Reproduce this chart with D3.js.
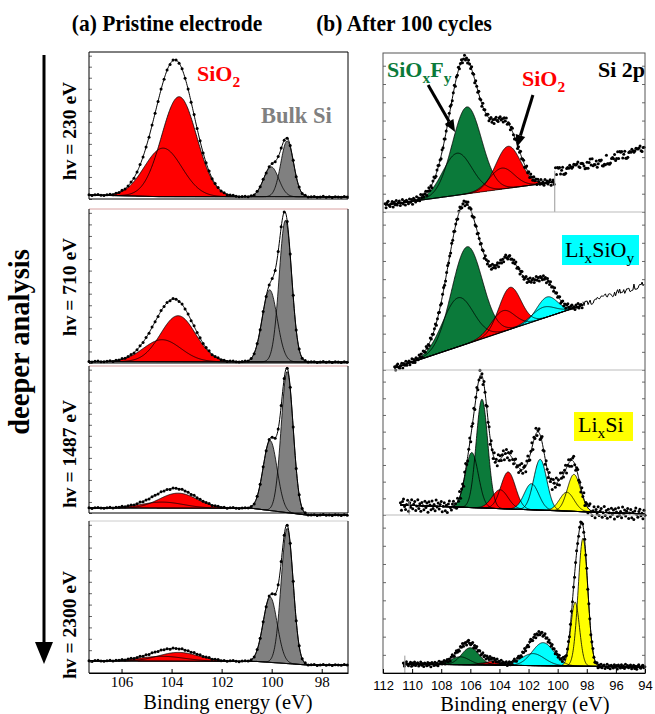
<!DOCTYPE html>
<html>
<head>
<meta charset="utf-8">
<script src="https://cdn.jsdelivr.net/npm/d3@7"></script>
<style>
  body { margin: 0; background: #fff; }
  svg { display: block; font-family: "Liberation Serif", "Times New Roman", serif; }
</style>
</head>
<body>
<svg width="655" height="714"></svg>
<script>
const photonEnergies = ["230", "710", "1487", "2300"];
const pristineTicks = [106, 104, 102, 100, 98];
const cycledTicks = [112, 110, 108, 106, 104, 102, 100, 98, 96, 94];
const species = ["SiO2", "Si", "SiOxFy", "LixSiOy", "LixSi"];

// fitted components, one row per photon energy: [species, centre eV, height (% of panel), sigma eV]
const pristinePeaks = [
  [["SiO2", 103.70, 68, 0.70], ["SiO2", 104.34, 33, 0.75], ["Si", 99.38, 38, 0.255], ["Si", 100.02, 20.4, 0.30]],
  [["SiO2", 103.74, 29.9, 0.70], ["SiO2", 104.38, 14.3, 0.75], ["Si", 99.45, 92, 0.25], ["Si", 100.08, 46.8, 0.30]],
  [["SiO2", 103.74, 10.2, 0.75], ["SiO2", 104.38, 4.1, 0.85], ["Si", 99.38, 96, 0.24], ["Si", 100.06, 47.6, 0.28]],
  [["SiO2", 103.72, 5.8, 0.80], ["SiO2", 104.38, 3.2, 0.90], ["Si", 99.38, 89, 0.24], ["Si", 100.06, 43, 0.28]]
];
// background nodes [eV, intensity]
const pristineBackground = [
  [[107.3, 2.7], [104.5, 1.6], [96.95, 1.4]],
  [[107.3, 0.9], [96.95, 0.6]],
  [[107.3, 3.4], [100.8, 3.2], [98.6, -1.4], [96.95, -1.4]],
  [[107.3, 7.9], [100.6, 7.6], [98.6, 5.3], [96.95, 5.3]]
];

// "other" = intensity in the envelope not assigned to a shaded component
const cycledPeaks = [
  [["SiOxFy", 106.23, 54.7, 1.0], ["SiOxFy", 106.9, 26.4, 1.0], ["SiO2", 103.4, 26.4, 0.85], ["SiO2", 103.83, 13.2, 0.85],
   ["other", 106.4, 7, 0.7], ["other", 104.8, 10, 0.75]],
  [["SiOxFy", 106.23, 61.4, 1.05], ["SiOxFy", 106.85, 31, 1.05], ["SiO2", 103.28, 26.6, 0.75], ["SiO2", 103.76, 13.3, 0.8],
   ["LixSiOy", 100.74, 12.7, 0.7], ["LixSiOy", 101.0, 7, 0.8], ["other", 104.6, 9, 0.8], ["other", 102.0, 14, 0.8]],
  [["SiOxFy", 105.2, 75, 0.4], ["SiOxFy", 105.9, 38, 0.45], ["SiO2", 103.4, 25.5, 0.5], ["SiO2", 103.96, 13, 0.55],
   ["LixSiOy", 101.2, 35, 0.45], ["LixSiOy", 101.8, 18, 0.5], ["LixSi", 98.88, 25.5, 0.45], ["LixSi", 99.37, 13, 0.5],
   ["other", 104.5, 13, 0.45], ["other", 102.6, 15, 0.5], ["other", 101.4, 8, 0.4], ["other", 100.1, 12, 0.45]],
  [["SiOxFy", 106.0, 10.8, 0.6], ["SiOxFy", 106.7, 5, 0.65], ["SiO2", 104.45, 2.5, 0.5], ["SiO2", 105.0, 1.3, 0.5],
   ["LixSiOy", 101.0, 14.6, 0.75], ["LixSiOy", 101.7, 7.6, 0.8], ["LixSi", 98.26, 81, 0.33], ["LixSi", 98.8, 40.5, 0.3]]
];
const cycledBackground = [
  [[111.86, 4.4], [100.2, 18.9]],
  [[111.2, 1.3], [98.26, 41.1]],
  [[110.8, 6.9], [94, 0.7]],
  [[110.6, 5.7], [94, 3.8]]
];
// measured signal outside the fitted window
const cycledTail = [
  [[100.15, 24.5], [94, 39]],
  [[98.26, 41.1], [94, 55]],
  [],
  []
];
// end of the fit window marker [eV, height]
const cycledWindow = [[100.2, 26], null, [110.2, 9], [110.5, 11]];
// scatter of measured points around the fit (read as residuals, -1..1)
const residuals = [0.35, -0.80, 0.55, 0.95, -0.20, -0.65, 0.10, 0.75, -0.90, 0.40, -0.30, 0.85, -0.50, 0.20, 0.60,
  -0.75, -0.05, 0.90, -0.45, 0.30, -0.85, 0.50, 0.00, -0.60, 0.70, -0.25, 0.45, -0.95, 0.65, 0.15, -0.55, 0.80,
  -0.35, 0.25, -0.70, 0.95, -0.10, 0.50, -0.40, 0.30, 0.75, -0.80, 0.05, 0.60, -0.65, 0.20, -0.90, 0.40, 0.85,
  -0.15, -0.55, 0.35, 0.70, -0.30, 0.10, -0.75, 0.55, -0.20, 0.90, -0.60, 0.25];
const pristineScatter = [0.4, 0.4, 0.4, 0.4];
const cycledScatter = [2.2, 2.0, 4.5, 1.6];
const cycledTailScatter = [3.5, 2.2];

const svg = d3.select("svg");
const color = d3.scaleOrdinal().domain(species).range(["#ff0000", "#808080", "#0b7a3a", "#00ffff", "#ffff00"]);

const xA = d3.scaleLinear().domain([107.3, 96.95]).range([89, 348]);
const xB = d3.scaleLinear().domain([112, 94]).range([383, 645]);
const rowsA = [[52, 199], [209, 363], [366, 513], [521, 673]];
const rowsB = [[53, 212], [212, 370], [370, 515], [515, 673]];

const gauss = (e, p) => p[2] * Math.exp(-((e - p[1]) ** 2) / (2 * p[3] * p[3]));

function drawSpectrum(g, x, y, peaks, bgNodes, scatterAmp, dotStep) {
  const bg = d3.scaleLinear().domain(bgNodes.map(d => d[0])).range(bgNodes.map(d => d[1])).clamp(true);
  const hi = bgNodes[0][0], lo = bgNodes[bgNodes.length - 1][0];
  const grid = d3.range(hi, lo - 0.001, -0.02);
  const total = e => bg(e) + d3.sum(peaks, p => gauss(e, p));
  const shown = peaks.filter(p => p[0] !== "other");

  shown.forEach(p => {
    g.append("path")
      .datum(grid)
      .attr("fill", color(p[0]))
      .attr("d", d3.area().x(e => x(e)).y0(e => y(bg(e))).y1(e => y(bg(e) + gauss(e, p))));
  });
  shown.forEach(p => {
    g.append("path")
      .datum(grid)
      .attr("fill", "none")
      .attr("stroke", "#000")
      .attr("stroke-width", 0.8)
      .attr("d", d3.line().x(e => x(e)).y(e => y(bg(e) + gauss(e, p))));
  });
  g.append("path")
    .datum(grid)
    .attr("fill", "none")
    .attr("stroke", "#000")
    .attr("stroke-width", 0.8)
    .attr("d", d3.line().x(e => x(e)).y(e => y(bg(e))));
  g.append("path")
    .datum(grid)
    .attr("fill", "none")
    .attr("stroke", "#000")
    .attr("stroke-width", 1)
    .attr("d", d3.line().x(e => x(e)).y(e => y(total(e))));

  const dots = d3.range(hi, lo - 0.001, -dotStep);
  g.selectAll(null)
    .data(dots)
    .join("circle")
    .attr("cx", e => x(e))
    .attr("cy", (e, i) => y(total(e) + residuals[i % residuals.length] * scatterAmp))
    .attr("r", 1.5)
    .attr("fill", "#000");
}

function tickMarks(g, y, xPos, step, inward) {
  const axis = (inward > 0 ? d3.axisRight(y) : d3.axisLeft(y))
    .tickValues(d3.range(0, 100, step)).tickSize(3).tickFormat("");
  const a = g.append("g").attr("transform", `translate(${xPos},0)`).call(axis);
  a.select(".domain").remove();
  a.selectAll("line").attr("stroke", "#444").attr("stroke-width", 0.8);
}

// ---------- panel (a) ----------
const gA = svg.append("g");
rowsA.forEach((row, i) => {
  const y = d3.scaleLinear().domain([0, 100]).range([row[1], row[0]]);
  const g = gA.append("g");
  drawSpectrum(g, xA, y, pristinePeaks[i], pristineBackground[i], pristineScatter[i], 0.12);
  tickMarks(g, y, 89, 7.5, 1);
  g.append("line").attr("x1", 89).attr("x2", 348).attr("y1", row[0]).attr("y2", row[0])
    .attr("stroke", i === 0 ? "#000" : (i === 3 ? "#ccc" : "#d9a0a0")).attr("stroke-width", 1);
  g.append("line").attr("x1", 89).attr("x2", 348).attr("y1", row[1]).attr("y2", row[1])
    .attr("stroke", "#000").attr("stroke-width", 1.2);
  g.append("line").attr("x1", 89).attr("x2", 89).attr("y1", row[0]).attr("y2", row[1]).attr("stroke", "#000");
  g.append("line").attr("x1", 348).attr("x2", 348).attr("y1", row[0]).attr("y2", row[1]).attr("stroke", "#000");

  svg.append("text")
    .attr("transform", `translate(76,${[131, 287, 454, 625][i]}) rotate(-90)`)
    .attr("text-anchor", "middle")
    .attr("font-weight", "bold")
    .attr("font-size", 19.5)
    .text(`hv = ${photonEnergies[i]} eV`);
});

const axisA = gA.append("g").attr("transform", "translate(0,673)")
  .call(d3.axisBottom(xA).tickValues(pristineTicks).tickSizeInner(-4).tickSizeOuter(0).tickPadding(3));
axisA.select(".domain").attr("stroke", "#000");
axisA.selectAll("text").attr("font-family", "Liberation Serif, serif").attr("font-size", 15).attr("fill", "#000");

// ---------- panel (b) ----------
const gB = svg.append("g");
rowsB.forEach((row, i) => {
  const y = d3.scaleLinear().domain([0, 100]).range([row[1], row[0]]);
  const g = gB.append("g");
  drawSpectrum(g, xB, y, cycledPeaks[i], cycledBackground[i], cycledScatter[i], 0.07);
  const tail = cycledTail[i];
  if (tail.length) {
    const t = d3.scaleLinear().domain(tail.map(d => d[0])).range(tail.map(d => d[1]));
    const es = d3.range(tail[0][0], tail[1][0] - 0.001, -0.07);
    const val = (e, k) => t(e) + residuals[(k * 7 + 3) % residuals.length] * cycledTailScatter[i];
    if (i === 1) {
      g.append("path").datum(es).attr("fill", "none").attr("stroke", "#000").attr("stroke-width", 1)
        .attr("d", d3.line().x(e => xB(e)).y((e, k) => y(val(e, k))));
    } else {
      g.selectAll(null).data(es).join("circle")
        .attr("cx", e => xB(e)).attr("cy", (e, k) => y(val(e, k))).attr("r", 1.5).attr("fill", "#000");
    }
  }
  const w = cycledWindow[i];
  if (w) {
    g.append("line").attr("x1", xB(w[0])).attr("x2", xB(w[0])).attr("y1", y(w[1])).attr("y2", y(0))
      .attr("stroke", "#999").attr("stroke-width", 1);
  }
  tickMarks(g, y, 383, 11.5, 1);
  tickMarks(g, y, 645, 11.5, -1);
  if (i > 0) {
    g.append("line").attr("x1", 383).attr("x2", 645).attr("y1", row[0]).attr("y2", row[0])
      .attr("stroke", "#bbb").attr("stroke-width", 1);
  }
});
gB.append("rect").attr("x", 383).attr("y", 53).attr("width", 262).attr("height", 620)
  .attr("fill", "none").attr("stroke", "#555").attr("stroke-width", 1);

const axisB = gB.append("g").attr("transform", "translate(0,673)")
  .call(d3.axisBottom(xB).tickValues(cycledTicks).tickSizeInner(-4).tickSizeOuter(0).tickPadding(8));
axisB.select(".domain").attr("stroke", "#000");
axisB.selectAll("text").attr("font-family", "Liberation Sans, Arial, sans-serif").attr("font-size", 13).attr("fill", "#000");

// ---------- labels ----------
function rich(x, y, parts, size, fill, weight, anchor) {
  const t = svg.append("text").attr("x", x).attr("y", y).attr("font-size", size)
    .attr("font-weight", weight).attr("fill", fill).attr("text-anchor", anchor || "start");
  let shifted = false;
  parts.forEach(([s, sub]) => {
    const ts = t.append("tspan").text(s);
    if (sub && !shifted) { ts.attr("dy", size * 0.28); shifted = true; }
    else if (!sub && shifted) { ts.attr("dy", -size * 0.28); shifted = false; }
    if (sub) ts.attr("font-size", size * 0.7);
  });
  return t;
}

// titles: the reference type is a little taller than it is wide
[["(a) Pristine electrode", 167], ["(b) After 100 cycles", 404]].forEach(([label, cx]) => {
  svg.append("text").attr("transform", `translate(${cx},31) scale(1,1.12)`).attr("text-anchor", "middle")
    .attr("font-weight", "bold").attr("font-size", 21.5).text(label);
});

rich(197, 81, [["SiO"], ["2", true]], 22, "#ff0000", "bold");
rich(261, 123, [["Bulk Si"]], 22.5, "#808080", "bold");
rich(387, 77, [["SiO"], ["x", true], ["F"], ["y", true]], 22, "#0b7a3a", "bold");
rich(645, 77, [["Si 2p"]], 22, "#000", "bold", "end");
rich(522, 86, [["SiO"], ["2", true]], 22, "#ff0000", "bold");

svg.append("rect").attr("x", 562).attr("y", 235).attr("width", 77).attr("height", 30).attr("fill", "#00ffff");
rich(565, 257, [["Li"], ["x", true], ["SiO"], ["y", true]], 22, "#000", "normal");
svg.append("rect").attr("x", 574).attr("y", 412).attr("width", 59).attr("height", 29).attr("fill", "#ffff00");
rich(578, 432, [["Li"], ["x", true], ["Si"]], 22, "#000", "normal");

// arrows in panel (b), top row, in data units
const yB1 = d3.scaleLinear().domain([0, 100]).range([rowsB[0][1], rowsB[0][0]]);
const annotationArrows = [[[108.9, 79.9], [107.05, 50.3]], [[101.7, 73.6], [102.8, 40.9]]];
function arrow(x1, y1, x2, y2, headLen, headHalf, width) {
  const ang = Math.atan2(y2 - y1, x2 - x1);
  const bx = x2 - headLen * Math.cos(ang), by = y2 - headLen * Math.sin(ang);
  svg.append("line").attr("x1", x1).attr("y1", y1).attr("x2", bx).attr("y2", by)
    .attr("stroke", "#000").attr("stroke-width", width);
  const px = -Math.sin(ang) * headHalf, py = Math.cos(ang) * headHalf;
  svg.append("path").attr("d", `M${x2},${y2}L${bx + px},${by + py}L${bx - px},${by - py}Z`).attr("fill", "#000");
}
annotationArrows.forEach(([a, b]) => arrow(xB(a[0]), yB1(a[1]), xB(b[0]), yB1(b[1]), 12, 5, 3));

// depth arrow
arrow(44, 55, 44, 664, 22, 9, 3);
svg.append("text")
  .attr("transform", "translate(29,342) rotate(-90)")
  .attr("text-anchor", "middle").attr("font-weight", "bold").attr("font-size", 28.5)
  .text("deeper analysis");

svg.append("text").attr("x", 228).attr("y", 709).attr("text-anchor", "middle").attr("font-size", 20.5)
  .text("Binding energy (eV)");
svg.append("text").attr("x", 525).attr("y", 711).attr("text-anchor", "middle").attr("font-size", 20.5)
  .text("Binding energy (eV)");
</script>
</body>
</html>
